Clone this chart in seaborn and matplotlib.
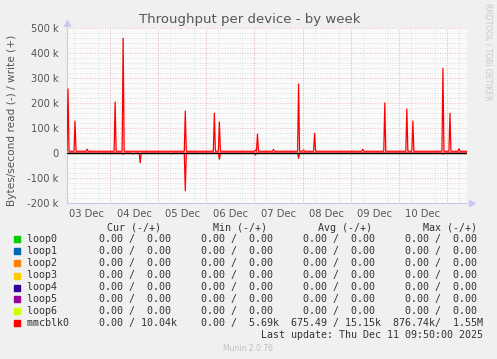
import numpy as np
import pandas as pd
import matplotlib
matplotlib.use("Agg")
import matplotlib.pyplot as plt
import matplotlib.dates as mdates
from matplotlib.ticker import MultipleLocator, FuncFormatter
from matplotlib.patches import Rectangle
import seaborn as sns

W, H = 497, 359

# week window, 30 min steps
start = pd.Timestamp("2025-12-03 02:30")
end = pd.Timestamp("2025-12-11 10:00")
ref = pd.Timestamp("2025-12-04 00:00")

# mmcblk0 write spikes (hours after 04 Dec 00:00, bytes/s)
write_hours = [-20.8, -17.3, -11.6, 2.6, 6.6, 37.6, 52.0, 54.5, 72.3, 73.5, 81.3,
               93.9, 96.4, 101.9, 125.8, 136.8, 148.0, 150.8, 166.2, 169.7, 174.2]
write_peaks = [256e3, 128e3, 15e3, 204e3, 459e3, 168e3, 159e3, 124e3, 12e3, 76e3, 14e3,
               276e3, 12e3, 79e3, 15e3, 200e3, 176e3, 128e3, 339e3, 159e3, 17e3]
write_base = 7e3

# mmcblk0 read spikes (drawn negative)
read_hours = [6.6, 11.0, 12.0, 15.0, 30.4, 37.6, 54.5, 72.3, 93.9, 166.2]
read_peaks = [5e3, 3e3, 3e3, 39e3, 3e3, 151e3, 25e3, 8e3, 21e3, 5e3]

devices = ["loop0", "loop1", "loop2", "loop3", "loop4", "loop5", "loop6", "mmcblk0"]
dev_colors = ["#00CC00", "#0066B3", "#FF8000", "#FFCC00", "#330099", "#990099", "#CCFF00", "#FF0000"]
cur_read = [0, 0, 0, 0, 0, 0, 0, 0]
cur_write = [0, 0, 0, 0, 0, 0, 0, 10.04e3]
min_read = [0, 0, 0, 0, 0, 0, 0, 0]
min_write = [0, 0, 0, 0, 0, 0, 0, 5.69e3]
avg_read = [0, 0, 0, 0, 0, 0, 0, 675.49]
avg_write = [0, 0, 0, 0, 0, 0, 0, 15.15e3]
max_read = [0, 0, 0, 0, 0, 0, 0, 876.74e3]
max_write = [0, 0, 0, 0, 0, 0, 0, 1.55e6]

times = pd.date_range(start, end, freq="30min")
hours = np.asarray((times - ref) / pd.Timedelta(hours=1))
write = np.full(len(times), write_base)
for h, v in zip(write_hours, write_peaks):
    write[np.argmin(np.abs(hours - h))] = v
read = np.zeros(len(times))
for h, v in zip(read_hours, read_peaks):
    read[np.argmin(np.abs(hours - h))] = -v
df = pd.DataFrame({"time": times, "write": write, "read": read})

sns.set_style("white")
plt.rcParams["font.family"] = ["DejaVu Sans"]
TXT = "#555555"
MONO = "DejaVu Sans Mono"

fig = plt.figure(figsize=(W / 100, H / 100), dpi=100, facecolor="#F0F0F0")
ax = fig.add_axes([67 / W, 1 - 203 / H, 400 / W, 175 / H])
ax.set_facecolor("#FAFAFA")

# grid
dot = (0, (1, 2))
ax.yaxis.set_major_locator(MultipleLocator(100e3))
ax.yaxis.set_minor_locator(MultipleLocator(20e3))
ax.xaxis.set_major_locator(mdates.HourLocator(byhour=12))
ax.xaxis.set_minor_locator(mdates.HourLocator(byhour=[0, 6, 12, 18]))
ax.xaxis.set_major_formatter(mdates.DateFormatter("%d %b"))
ax.grid(True, which="minor", axis="both", color="#D4D4D4", linestyle=dot, lw=0.6)
ax.grid(True, which="major", axis="y", color="#E8A8A8", linestyle=dot, lw=0.6)
for d in pd.date_range("2025-12-04", "2025-12-11", freq="D"):
    ax.axvline(d, color="#E8A8A8", linestyle=dot, lw=0.6, zorder=0.6)
ax.set_axisbelow(True)

# other devices are all zero
for name, c in zip(devices[:-1], dev_colors[:-1]):
    sns.lineplot(x=df["time"], y=np.zeros(len(df)), color=c, lw=0.8, ax=ax)
sns.lineplot(data=df, x="time", y="read", color="#FF0000", lw=0.9, ax=ax)
ax.axhline(0, color="black", lw=0.8, zorder=3)
sns.lineplot(data=df, x="time", y="write", color="#FF0000", lw=0.9, ax=ax, zorder=4)

ax.set_xlim(start, end)
ax.set_ylim(-200e3, 500e3)
ax.yaxis.set_major_formatter(FuncFormatter(lambda v, p: "0" if v == 0 else f"{v / 1000:.0f} k"))
ax.tick_params(which="both", length=0, labelsize=7.2, colors=TXT)
ax.tick_params(axis="x", pad=4)
ax.tick_params(axis="y", pad=6)
ax.set_xlabel("")
ax.set_ylabel("")
for s in ["top", "right"]:
    ax.spines[s].set_visible(False)
for s in ["left", "bottom"]:
    ax.spines[s].set_color("#C8C8F0")
    ax.spines[s].set_linewidth(0.8)
ax.plot([1.012], [0], marker=">", ms=4, color="#C8C8F0", transform=ax.transAxes, clip_on=False)
ax.plot([0], [1.03], marker="^", ms=4, color="#C8C8F0", transform=ax.transAxes, clip_on=False)

fig.text(250 / W, 1 - 19 / H, "Throughput per device - by week", ha="center", va="center",
         fontsize=9.5, color=TXT)
fig.text(12 / W, 1 - 120 / H, "Bytes/second read (-) / write (+)", rotation=90,
         ha="center", va="center", fontsize=7.6, color=TXT)
fig.text(488 / W, 1 - 52 / H, "RRDTOOL / TOBI OETIKER", rotation=270, ha="center",
         va="center", fontsize=5.5, color="#C8C8C8")


def fmt(v):
    if v >= 1e6:
        return f"{v / 1e6:6.2f}M"
    if v >= 1e3:
        return f"{v / 1e3:6.2f}k"
    return f"{v:6.2f} "


for x, head in zip([107, 212.7, 317.7, 422.7], ["Cur (-/+)", "Min (-/+)", "Avg (-/+)", "Max (-/+)"]):
    fig.text(x / W, 1 - 227.7 / H, head, ha="left", va="center", family=MONO, fontsize=7.2, color="#333333")

row_y = [239.3, 251.3, 263.3, 275.5, 287.5, 299.4, 311.4, 323.3]
for i, name in enumerate(devices):
    fields = [fmt(a) + "/" + fmt(b) for a, b in [(cur_read[i], cur_write[i]), (min_read[i], min_write[i]),
                                                  (avg_read[i], avg_write[i]), (max_read[i], max_write[i])]]
    line = name.ljust(10) + "  ".join(fields)
    fig.text(26.7 / W, 1 - row_y[i] / H, line, ha="left", va="center", family=MONO,
             fontsize=7.2, color="#333333")
    fig.patches.append(Rectangle((14 / W, 1 - (row_y[i] + 3) / H), 6 / W, 6 / H,
                                 transform=fig.transFigure, color=dev_colors[i]))

fig.text(483 / W, 1 - 335 / H, "Last update: Thu Dec 11 09:50:00 2025", ha="right", va="center",
         family=MONO, fontsize=7.2, color="#333333")
fig.text(248 / W, 1 - 348.3 / H, "Munin 2.0.76", ha="center", va="center", fontsize=5.5, color="#C0C0C0")

fig.savefig("out.png", dpi=100, facecolor=fig.get_facecolor())
plt.close(fig)
